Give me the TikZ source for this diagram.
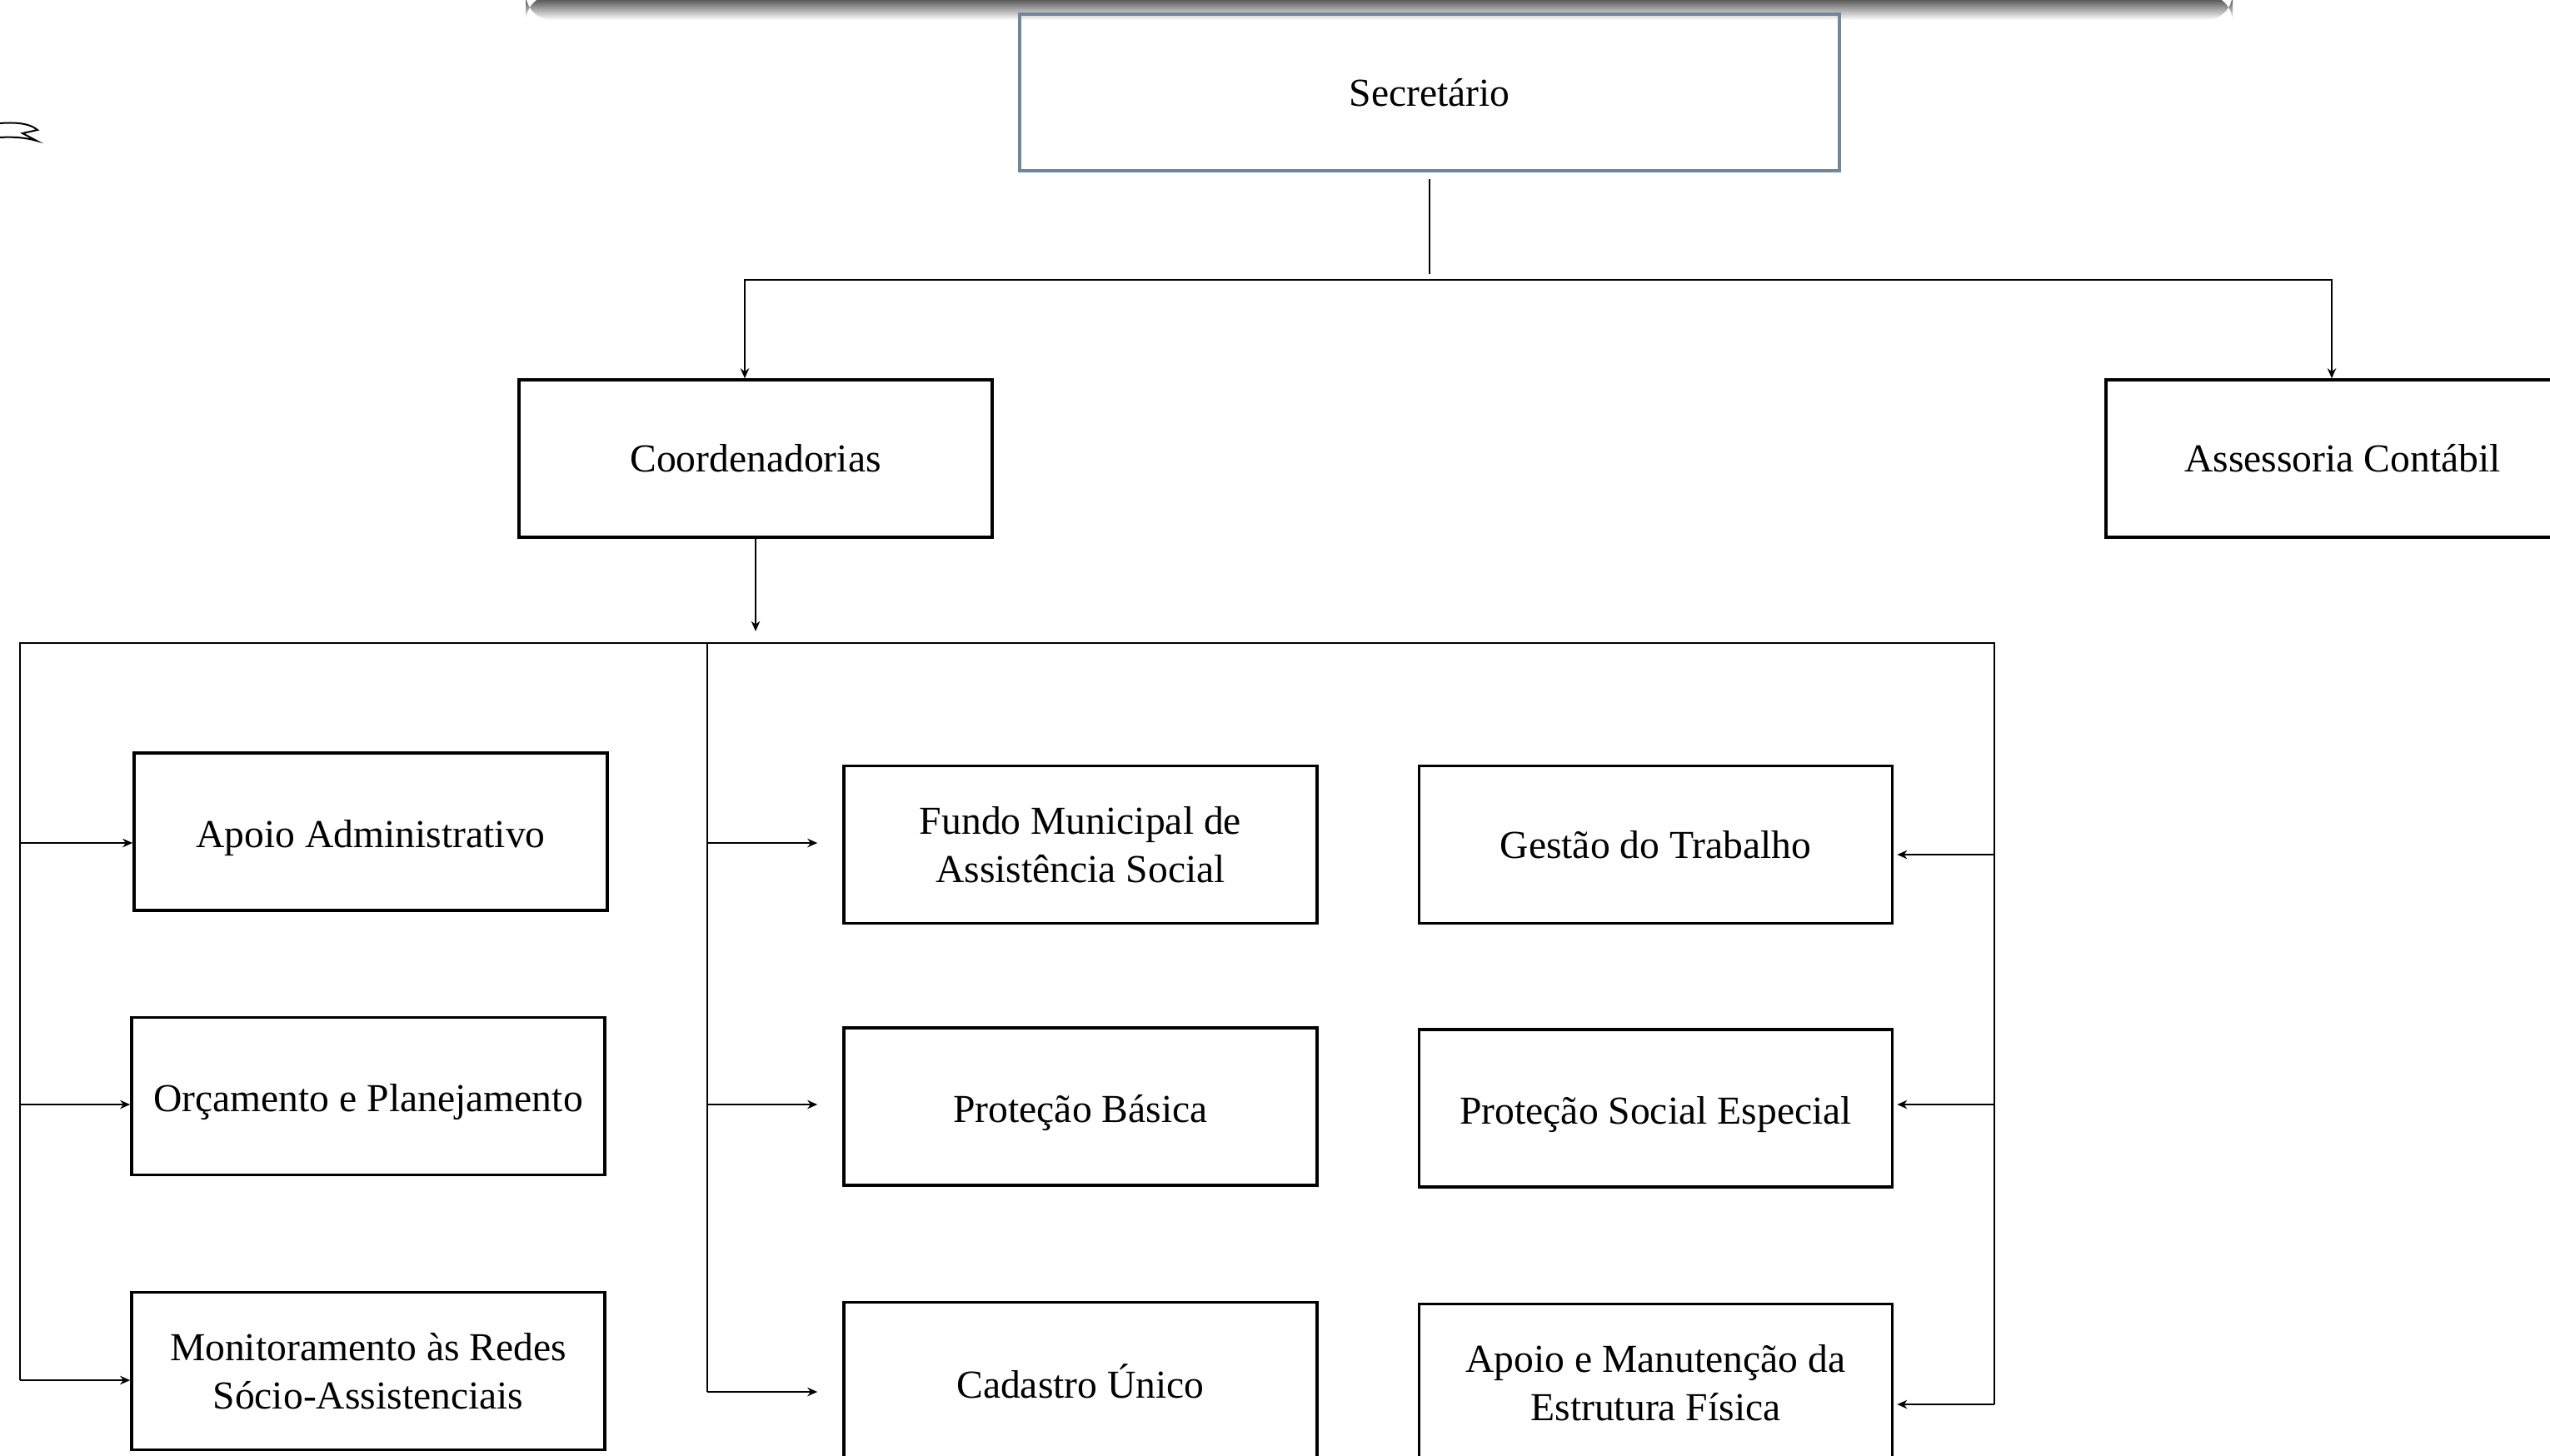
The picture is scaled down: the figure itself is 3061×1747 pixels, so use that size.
\documentclass[tikz,border=0pt]{standalone}
\usepackage{fontspec}
\setmainfont{Liberation Serif}
\usetikzlibrary{arrows.meta}

\definecolor{chefeborda}{RGB}{112,134,156}

\begin{document}
\begin{tikzpicture}[x=0.25pt, y=-0.25pt,
  caixa/.style={draw, line width=0.9pt, minimum width=142pt, minimum height=47.25pt,
    align=center, inner sep=2pt, font=\fontsize{11.9}{14.6}\selectfont},
  baixo/.style={text height=12pt},
  liga/.style={line width=0.55pt},
  seta/.style={liga, -{Stealth[length=3pt, width=2.6pt]}}]
\clip (0,0) rectangle (3061,1747);
\shade [top color=black!80, bottom color=white, rounded corners=8pt] (631,-6) rectangle (2680,24);
\draw [line width=0.5pt] (0,148) .. controls (25,146) and (38,150) .. (45,156)
      -- (27,160) -- (44,169) .. controls (30,165) and (15,164) .. (0,165);

% topo
\node [caixa, draw=chefeborda, line width=1pt, minimum width=246pt, minimum height=47pt]
      (secretario) at (1716,111) {Secretário};
\node [caixa] (coord) at (907,550.5) {Coordenadorias};
\node [caixa] (contabil) at (2812,550.5) {Assessoria Contábil};

% coordenadorias
\node [caixa, baixo] (apoioadm) at (445,998.5) {Apoio Administrativo};
\node [caixa, baixo] (orcamento) at (442,1316) {Orçamento e Planejamento};
\node [caixa] (monitor) at (442,1646) {Monitoramento às Redes\\Sócio-Assistenciais};
\node [caixa] (fundo) at (1297,1014) {Fundo Municipal de\\Assistência Social};
\node [caixa, baixo] (basica) at (1297,1328.5) {Proteção Básica};
\node [caixa] (cadastro) at (1297,1658) {Cadastro Único};
\node [caixa] (gestao) at (1987.5,1014) {Gestão do Trabalho};
\node [caixa, baixo] (especial) at (1987.5,1330.5) {Proteção Social Especial};
\node [caixa] (estrutura) at (1987.5,1660) {Apoio e Manutenção da\\Estrutura Física};

\draw [liga] ([yshift=-2pt]secretario.south) -- ++(0,114);
\coordinate (ramo) at (1716,336);
\draw [seta] (ramo) -| ([xshift=-3.25pt]coord.north);
\draw [seta] (ramo) -| ([xshift=-3.25pt]contabil.north);
\draw [seta] (coord.south) -- ++(0,111);

\coordinate (esq) at (24,772);
\coordinate (meio) at (849,772);
\coordinate (dir) at (2394,772);
\draw [liga] (esq |- 0,1657) -- (esq) -- (dir) -- (dir |- 0,1686);
\draw [liga] (meio) -- (meio |- 0,1671);

\draw [seta] (esq |- 0,1012) -- (apoioadm.west |- 0,1012);
\draw [seta] (esq |- 0,1326) -- (orcamento.west |- 0,1326);
\draw [seta] (esq |- 0,1657) -- (monitor.west |- 0,1657);
\draw [seta, shorten >=7.5pt] (meio |- 0,1012) -- (fundo.west |- 0,1012);
\draw [seta, shorten >=7.5pt] (meio |- 0,1326) -- (basica.west |- 0,1326);
\draw [seta, shorten >=7.5pt] (meio |- 0,1671) -- (cadastro.west |- 0,1671);
\draw [seta, shorten >=1pt] (dir |- 0,1026) -- (gestao.east |- 0,1026);
\draw [seta, shorten >=1pt] (dir |- 0,1326) -- (especial.east |- 0,1326);
\draw [seta, shorten >=1pt] (dir |- 0,1686) -- (estrutura.east |- 0,1686);
\end{tikzpicture}
\end{document}
